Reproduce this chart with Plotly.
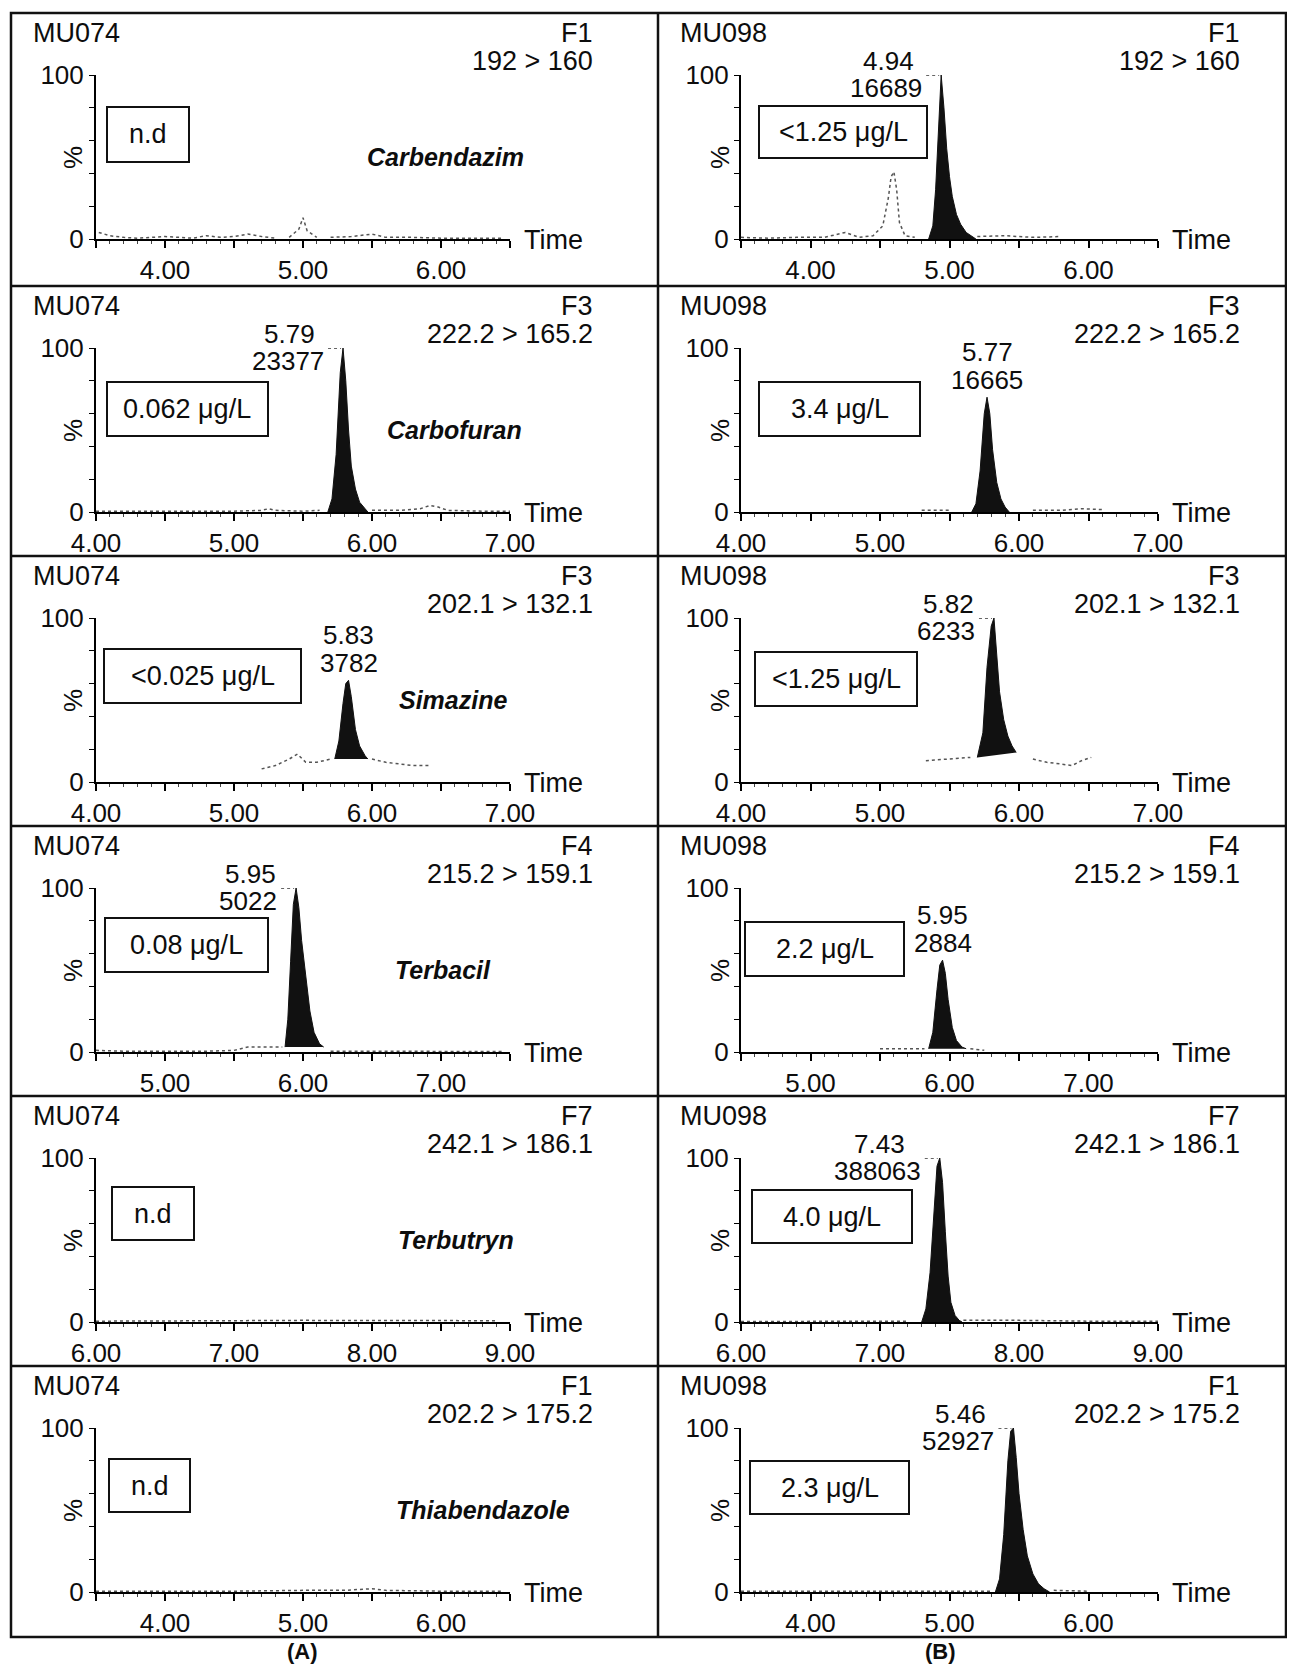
import plotly.graph_objects as go

# ---------------- data ----------------
samples = ["MU074", "MU098"]
functions = ["F1", "F3", "F3", "F4", "F7", "F1"]
transitions = ["192 > 160", "222.2 > 165.2", "202.1 > 132.1",
               "215.2 > 159.1", "242.1 > 186.1", "202.2 > 175.2"]
compounds = ["Carbendazim", "Carbofuran", "Simazine", "Terbacil", "Terbutryn", "Thiabendazole"]
x_starts = [3.5, 4.0, 4.0, 4.5, 6.0, 3.5]
x_major = [[4, 5, 6], [4, 5, 6, 7], [4, 5, 6, 7], [5, 6, 7], [6, 7, 8, 9], [4, 5, 6]]
conc_A = ["n.d", "0.062 μg/L", "<0.025 μg/L", "0.08 μg/L", "n.d", "n.d"]
conc_B = ["<1.25 μg/L", "3.4 μg/L", "<1.25 μg/L", "2.2 μg/L", "4.0 μg/L", "2.3 μg/L"]
peak_rt_A = [None, "5.79", "5.83", "5.95", None, None]
peak_area_A = [None, "23377", "3782", "5022", None, None]
peak_rt_B = ["4.94", "5.77", "5.82", "5.95", "7.43", "5.46"]
peak_area_B = ["16689", "16665", "6233", "2884", "388063", "52927"]

# integrated (black) peaks: retention time (min) and relative intensity (%)
peak_time_A = [
    None,
    [5.68, 5.71, 5.74, 5.77, 5.79, 5.81, 5.83, 5.85, 5.88, 5.91, 5.95, 5.97],
    [5.73, 5.76, 5.79, 5.81, 5.83, 5.85, 5.88, 5.91, 5.95, 5.97],
    [5.87, 5.89, 5.91, 5.93, 5.95, 5.97, 5.99, 6.02, 6.05, 6.08, 6.12, 6.15],
    None,
    None,
]
peak_int_A = [
    None,
    [0, 8, 35, 85, 100, 80, 50, 28, 14, 6, 2, 0],
    [14, 25, 48, 60, 62, 52, 32, 22, 16, 14],
    [3, 20, 55, 90, 100, 88, 68, 45, 25, 12, 5, 3],
    None,
    None,
]
peak_time_B = [
    [4.85, 4.88, 4.90, 4.92, 4.94, 4.96, 4.98, 5.00, 5.02, 5.05, 5.08, 5.12, 5.17, 5.19],
    [5.66, 5.69, 5.72, 5.75, 5.77, 5.79, 5.81, 5.84, 5.87, 5.90, 5.93],
    [5.70, 5.74, 5.77, 5.80, 5.82, 5.84, 5.86, 5.89, 5.92, 5.95, 5.98],
    [5.85, 5.88, 5.91, 5.93, 5.95, 5.97, 5.99, 6.02, 6.05, 6.09, 6.12],
    [7.30, 7.33, 7.36, 7.39, 7.41, 7.43, 7.45, 7.47, 7.49, 7.51, 7.54, 7.57, 7.59],
    [5.33, 5.36, 5.39, 5.42, 5.44, 5.46, 5.48, 5.50, 5.53, 5.56, 5.60, 5.64, 5.68, 5.72],
]
peak_int_B = [
    [0, 8, 30, 70, 100, 80, 55, 38, 26, 15, 9, 4, 1, 0],
    [0, 5, 25, 60, 70, 60, 38, 18, 8, 3, 0],
    [15, 30, 70, 95, 100, 80, 55, 38, 28, 22, 18],
    [2, 12, 38, 53, 56, 48, 32, 15, 7, 3, 2],
    [0, 8, 30, 70, 95, 100, 85, 55, 28, 12, 4, 1, 0],
    [0, 8, 35, 80, 98, 100, 82, 60, 38, 22, 11, 5, 2, 0],
]

# dotted background trace segments (time, %)
noise_time_A = [
    [[3.52, 3.6, 3.7, 3.8, 3.9, 4.0, 4.1, 4.2, 4.3, 4.4, 4.5, 4.6, 4.7, 4.8],
     [4.9, 4.97, 5.0, 5.03, 5.1], [5.2, 5.35, 5.5, 5.6, 5.8, 6.0, 6.2, 6.45]],
    [[4.0, 4.5, 5.0, 5.2, 5.25, 5.3, 5.5, 5.62], [6.0, 6.2, 6.35, 6.42, 6.48, 6.55, 6.8, 7.0]],
    [[5.2, 5.3, 5.4, 5.46, 5.52, 5.6, 5.7], [6.0, 6.1, 6.2, 6.3, 6.42]],
    [[4.5, 4.7, 4.9, 5.1, 5.3, 5.5, 5.6, 5.7, 5.85], [6.2, 6.6, 7.0, 7.45]],
    [[6.0, 6.5, 7.0, 7.5, 8.0, 8.5, 8.9]],
    [[3.5, 4.0, 4.5, 5.0, 5.3, 5.5, 5.6, 6.0, 6.45]],
]
noise_int_A = [
    [[4, 2, 1, 0.5, 1, 1.5, 1, 0.5, 2, 1, 1.5, 3, 1.5, 0.5],
     [1, 6, 13, 5, 1], [1, 1.5, 3, 1, 1, 0.5, 0.5, 0.5]],
    [[0.5, 0.5, 0.5, 1, 2, 1, 0.5, 1], [1, 1, 2, 4, 3, 1, 0.5, 0.5]],
    [[8, 10, 14, 17, 12, 12, 14], [14, 12, 11, 10, 10]],
    [[1, 0.5, 0.5, 0.5, 0.5, 1, 3, 3, 3], [0.5, 0.3, 0.3, 0.3]],
    [[0.5, 0.5, 0.8, 1, 1, 1, 0.8]],
    [[0.5, 0.5, 0.5, 1, 1, 2, 1, 0.5, 0.5]],
]
noise_time_B = [
    [[3.5, 3.7, 3.9, 4.1, 4.25, 4.35, 4.45, 4.52, 4.56, 4.58, 4.60, 4.62, 4.64, 4.68, 4.75],
     [5.2, 5.4, 5.6, 5.8]],
    [[5.3, 5.4, 5.5], [6.1, 6.3, 6.45, 6.6]],
    [[5.33, 5.5, 5.65], [6.1, 6.2, 6.3, 6.38, 6.45, 6.52]],
    [[5.5, 5.6, 5.75, 5.82], [6.15, 6.25]],
    [[6.0, 6.5, 7.0, 7.2], [7.6, 8.0, 8.5, 9.0]],
    [[3.5, 4.0, 4.5, 5.0, 5.3], [5.75, 6.0]],
]
noise_int_B = [
    [[1, 0.5, 1, 1, 4, 1, 2, 8, 25, 38, 41, 30, 10, 2, 1],
     [1.5, 2, 1, 1.5]],
    [[1, 1, 1], [1, 1, 2, 1.5]],
    [[13, 14, 15], [14, 12, 11, 10, 13, 15]],
    [[2, 2, 2, 2], [2, 1]],
    [[0.3, 0.3, 0.3, 0.5], [1, 1, 0.5, 0.5]],
    [[0.5, 0.5, 0.5, 0.5, 0.5], [1, 0.5]],
]

# ---------------- layout geometry (page pixels) ----------------
OFF = 8                      # default page margin around the plot div
W, H = 1279, 1657            # figure size (fits the window without scrolling)
FONT = "Liberation Sans, Arial, sans-serif"
FS = 27                      # general text
FS_TICK = 26                 # tick labels / peak labels
TXT = "#0d0d0d"
row_tops = [13, 286, 556, 826, 1096, 1366]
frame_bottom = 1637
frame_left, frame_mid, frame_right = 11, 658, 1286
axis_x_px = [(96, 510), (741, 1158)]
AX_TOP, AX_BOT = 62, 226
name_x_px = [445, 454, 453, 443, 456, 483]
# box geometry relative to panel (dx, dy, w, h)
boxes_A = [(96, 94, 82, 55), (96, 96, 161, 54), (93, 93, 197, 54),
           (94, 92, 163, 54), (101, 91, 82, 53), (98, 93, 81, 53)]
boxes_B = [(101, 93, 168, 52), (101, 96, 161, 54), (97, 96, 162, 54),
           (87, 96, 159, 54), (94, 94, 160, 53), (92, 95, 159, 53)]


def px(x):
    return (x - OFF) / W


def py(y):
    return 1 - (y - OFF) / H


fig = go.Figure()
annotations = []
shapes = []


def text(x, y, s, xanchor="center", size=FS, bold=False, italic=False, angle=0):
    f = dict(family=FONT, size=size, color=TXT)
    if bold:
        f["weight"] = "bold"
    if italic:
        f["style"] = "italic"
    annotations.append(dict(x=px(x), y=py(y), xref="paper", yref="paper", text=s,
                            showarrow=False, xanchor=xanchor, yanchor="middle",
                            font=f, textangle=angle))


columns = [
    (samples[0], conc_A, peak_rt_A, peak_area_A, peak_time_A, peak_int_A,
     noise_time_A, noise_int_A, boxes_A),
    (samples[1], conc_B, peak_rt_B, peak_area_B, peak_time_B, peak_int_B,
     noise_time_B, noise_int_B, boxes_B),
]

for c, (samp, conc, p_rt, p_area, p_t, p_i, n_t, n_i, boxes) in enumerate(columns):
    panel_left = frame_left if c == 0 else frame_mid
    ax0, ax1 = axis_x_px[c]
    for r in range(6):
        idx = c * 6 + r + 1
        xa = "x" if idx == 1 else f"x{idx}"
        ya = "y" if idx == 1 else f"y{idx}"
        top = row_tops[r]
        y100, y0 = top + AX_TOP, top + AX_BOT
        xs = x_starts[r]
        majors = x_major[r]
        tv, tt = [], []
        v = xs
        while v <= xs + 3.0 + 1e-9:
            tv.append(round(v, 2))
            tt.append(f"{v:.2f}" if abs(v - round(v)) < 1e-9 and round(v) in majors else "")
            v += 0.5
        fig.layout[("xaxis" if idx == 1 else f"xaxis{idx}")] = dict(
            domain=[px(ax0), px(ax1)], anchor=ya, range=[xs, xs + 3.0],
            automargin=False,
            showline=True, linecolor="black", linewidth=2,
            ticks="outside", tickvals=tv, ticktext=tt, ticklen=7, tickwidth=1.5,
            tickcolor="black", ticklabelstandoff=0,
            minor=dict(ticks="outside", tickmode="linear", tick0=0, dtick=0.1,
                       ticklen=3, tickwidth=1, tickcolor="#444"),
            showgrid=False, zeroline=False,
            tickfont=dict(family=FONT, size=FS_TICK, color=TXT), fixedrange=True)
        fig.layout[("yaxis" if idx == 1 else f"yaxis{idx}")] = dict(
            domain=[py(y0), py(y100)], anchor=xa, range=[0, 100],
            automargin=False,
            showline=True, linecolor="black", linewidth=2,
            ticks="outside", tickvals=[0, 20, 40, 60, 80, 100],
            ticktext=["0", "", "", "", "", "100"], ticklen=5, tickwidth=1.2,
            tickcolor="black", ticklabelstandoff=0,
            showgrid=False, zeroline=False,
            tickfont=dict(family=FONT, size=FS_TICK, color=TXT), fixedrange=True)

        # dotted background chromatogram
        for tseg, iseg in zip(n_t[r], n_i[r]):
            fig.add_trace(go.Scatter(x=tseg, y=iseg, xaxis=xa, yaxis=ya, mode="lines",
                                     line=dict(color="#555", width=1.5, dash="dot"),
                                     hoverinfo="skip", showlegend=False))
        # integrated peak
        if p_t[r] is not None:
            fig.add_trace(go.Scatter(x=p_t[r], y=p_i[r], xaxis=xa, yaxis=ya, mode="lines",
                                     fill="toself", fillcolor="#111",
                                     line=dict(color="#111", width=1),
                                     hoverinfo="skip", showlegend=False))
        # peak label
        if p_rt[r] is not None:
            rt = float(p_rt[r])
            apex = max(p_i[r])
            font = dict(family=FONT, size=FS_TICK, color=TXT)
            if apex >= 99:
                w2 = len(p_area[r]) * 0.556 * FS_TICK
                annotations.append(dict(x=rt, y=apex, xref=xa, yref=ya, text=p_area[r],
                                        showarrow=False, xanchor="right", yanchor="middle",
                                        xshift=-17, yshift=-13, font=font))
                annotations.append(dict(x=rt, y=apex, xref=xa, yref=ya, text=p_rt[r],
                                        showarrow=False, xanchor="center", yanchor="middle",
                                        xshift=-17 - w2 / 2, yshift=14, font=font))
                shapes.append(dict(type="line", xref=xa, yref=ya, xsizemode="pixel",
                                   xanchor=rt, x0=-15, x1=-2, y0=apex, y1=apex,
                                   line=dict(color="#333", width=1.5, dash="dot")))
            else:
                annotations.append(dict(x=rt, y=apex, xref=xa, yref=ya, text=p_area[r],
                                        showarrow=False, xanchor="center", yanchor="middle",
                                        yshift=17, font=font))
                annotations.append(dict(x=rt, y=apex, xref=xa, yref=ya, text=p_rt[r],
                                        showarrow=False, xanchor="center", yanchor="middle",
                                        yshift=45, font=font))

        # header texts
        text(panel_left + 20, top + 20, samp, xanchor="left")
        text(panel_left + 584, top + 20, functions[r], xanchor="right")
        text(panel_left + 584, top + 48, transitions[r], xanchor="right")
        text(ax1 + 12, y0 + 1, "Time", xanchor="left")
        text(panel_left + 62, (y0 + y100) / 2 + 1, "%", size=FS_TICK, angle=-90)
        if c == 0:
            text(name_x_px[r], top + 144, compounds[r], size=25, bold=True, italic=True)
        # concentration box
        dx, dy, bw, bh = boxes[r]
        bx0, by0 = panel_left + dx, top + dy
        shapes.append(dict(type="rect", xref="paper", yref="paper",
                           x0=px(bx0), x1=px(bx0 + bw), y0=py(by0), y1=py(by0 + bh),
                           line=dict(color="#111", width=2)))
        text(bx0 + bw / 2, by0 + bh / 2, conc[r])

# frame
shapes.append(dict(type="rect", xref="paper", yref="paper",
                   x0=px(frame_left), x1=px(frame_right), y0=py(row_tops[0]), y1=py(frame_bottom),
                   line=dict(color="#111", width=2.5)))
shapes.append(dict(type="line", xref="paper", yref="paper",
                   x0=px(frame_mid), x1=px(frame_mid), y0=py(row_tops[0]), y1=py(frame_bottom),
                   line=dict(color="#111", width=2.5)))
for t in row_tops[1:]:
    shapes.append(dict(type="line", xref="paper", yref="paper",
                       x0=px(frame_left), x1=px(frame_right), y0=py(t), y1=py(t),
                       line=dict(color="#111", width=2.5)))

text(302, 1651, "(A)", size=22, bold=True)
text(940, 1651, "(B)", size=22, bold=True)

fig.update_layout(width=W, height=H, margin=dict(l=0, r=0, t=0, b=0, autoexpand=False),
                  paper_bgcolor="white", plot_bgcolor="rgba(0,0,0,0)",
                  showlegend=False, annotations=annotations, shapes=shapes)
fig.write_html("out.html")
